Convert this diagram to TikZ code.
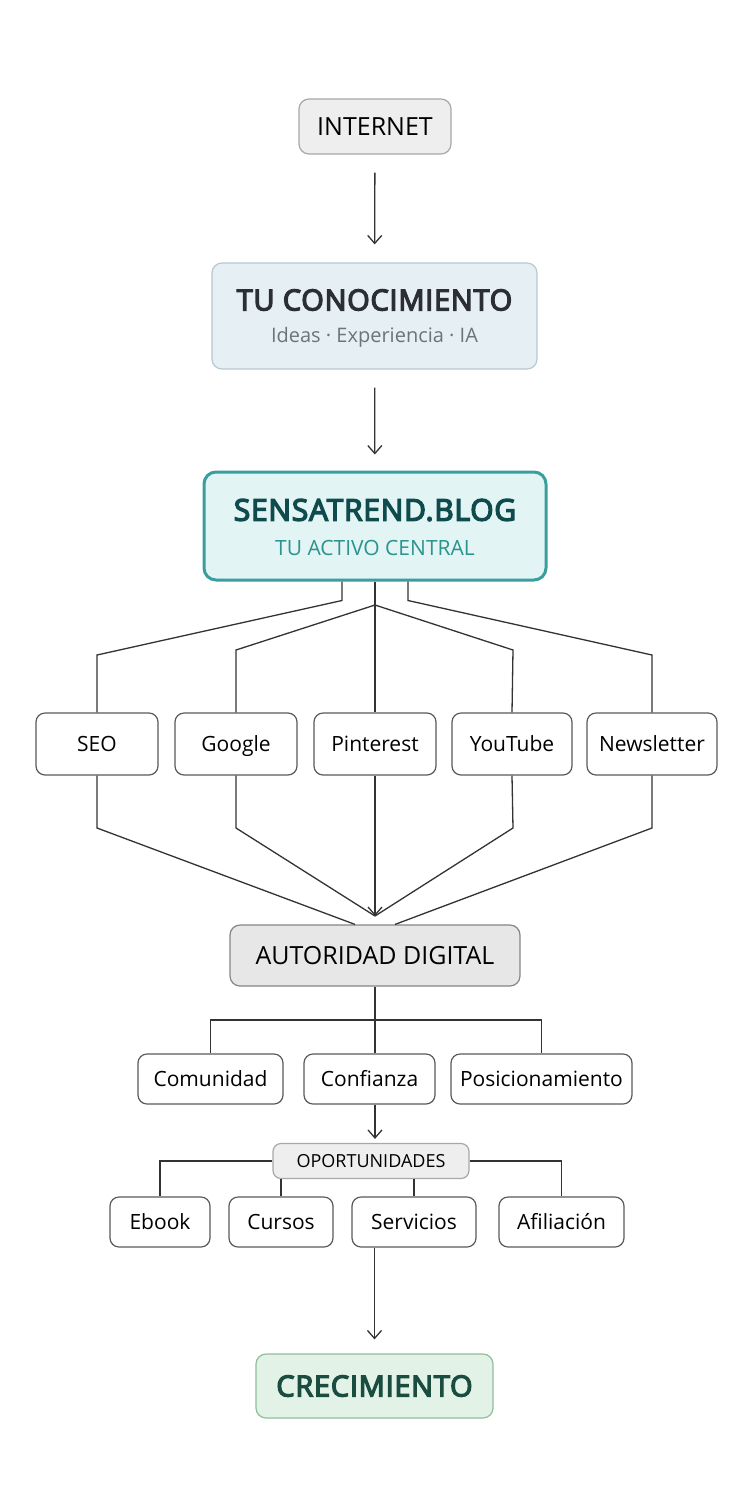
\documentclass[tikz,border=0pt]{standalone}
\usepackage{fontspec}
\setmainfont{Open Sans}
\newfontfamily\mediumfont[FakeBold=4.5, LetterSpace=2.5]{Open Sans}
\usepackage{xcolor}
\usetikzlibrary{arrows.meta}
\definecolor{linegray}{HTML}{333333}
\definecolor{boxborder}{HTML}{5A5A5A}
\definecolor{greyfill}{HTML}{EEEEEE}
\definecolor{greyborder}{HTML}{A8A8A8}
\definecolor{authfill}{HTML}{E7E7E7}
\definecolor{knowfill}{HTML}{E6F0F4}
\definecolor{knowborder}{HTML}{B8C8D0}
\definecolor{knowtext}{HTML}{2B2F33}
\definecolor{knowsub}{HTML}{6B7478}
\definecolor{blogfill}{HTML}{E2F4F4}
\definecolor{blogborder}{HTML}{3A9E9E}
\definecolor{blogtext}{HTML}{0F4A4D}
\definecolor{blogsub}{HTML}{2A948F}
\definecolor{crecfill}{HTML}{E2F2E6}
\definecolor{crecborder}{HTML}{8EBF9A}
\definecolor{crectext}{HTML}{1A4D40}

\tikzset{
  box/.style={draw=boxborder, fill=white, line width=0.6pt, rounded corners=4.5pt, inner sep=0pt, text height=7.6pt, text depth=0pt, font=\fontsize{10.5}{12}\selectfont},
  greybox/.style={draw=greyborder, fill=greyfill, line width=0.6pt, rounded corners=5pt, inner sep=0pt},
  link/.style={draw=linegray, line width=0.65pt},
  arrow/.style={link, -{Straight Barb[length=4pt, width=7pt, line width=0.65pt]}}
}

\begin{document}
\begin{tikzpicture}[x=0.5pt,y=-0.5pt]
\useasboundingbox[fill=white] (0,0) rectangle (750,1500);

\draw node(internet)[greybox, minimum width=76pt, minimum height=27.5pt, font=\fontsize{12.5}{14}\selectfont] at (375,126.5) {INTERNET};

\draw node(know)[draw=knowborder, fill=knowfill, line width=0.6pt, rounded corners=5pt, minimum width=162.5pt, minimum height=53pt] at (374.5,316) {};
\draw node(knowtitle)[text=knowtext, font=\mediumfont\fontsize{14.5}{17}\selectfont] at (374.5,300) {TU CONOCIMIENTO};
\draw node(knowsub)[text=knowsub, font=\fontsize{10}{12}\selectfont] at (374.5,337) {Ideas · Experiencia · IA};

\draw node(blog)[draw=blogborder, fill=blogfill, line width=1.5pt, rounded corners=6pt, minimum width=171pt, minimum height=54pt] at (375,526) {};
\draw node(blogtitle)[text=blogtext, font=\mediumfont\fontsize{15}{18}\selectfont] at (375,510) {SENSATREND.BLOG};
\draw node(blogsub)[text=blogsub, font=\fontsize{10.5}{12}\selectfont] at (375,548) {TU ACTIVO CENTRAL};

\draw node(seo)[box, minimum width=61pt, minimum height=31pt] at (97,744) {SEO};
\draw node(google)[box, minimum width=61pt, minimum height=31pt] at (236,744) {Google};
\draw node(pinterest)[box, minimum width=61pt, minimum height=31pt] at (375,744) {Pinterest};
\draw node(youtube)[box, minimum width=60pt, minimum height=31pt] at (512,744) {YouTube};
\draw node(newsletter)[box, minimum width=65pt, minimum height=31pt] at (652,744) {Newsletter};

\draw node(autoridad)[greybox, fill=authfill, draw=greyborder!80!black, minimum width=145pt, minimum height=30.5pt, font=\fontsize{12.5}{14}\selectfont] at (375,955.5) {AUTORIDAD DIGITAL};

\draw node(comunidad)[box, minimum width=72.5pt, minimum height=25pt] at (210.5,1079) {Comunidad};
\draw node(confianza)[box, minimum width=65.5pt, minimum height=25pt] at (369.5,1079) {Confianza};
\draw node(posicion)[box, minimum width=90.5pt, minimum height=25pt] at (541.5,1079) {Posicionamiento};

\draw node(oport)[greybox, rounded corners=4pt, minimum width=98pt, minimum height=17.5pt, font=\fontsize{9}{10}\selectfont] at (371,1161) {OPORTUNIDADES};

\draw node(ebook)[box, minimum width=50pt, minimum height=25pt] at (160,1222) {Ebook};
\draw node(cursos)[box, minimum width=52pt, minimum height=25pt] at (281,1222) {Cursos};
\draw node(servicios)[box, minimum width=62pt, minimum height=25pt] at (414,1222) {Servicios};
\draw node(afiliacion)[box, minimum width=62.5pt, minimum height=25pt] at (561.5,1222) {Afiliación};

\draw node(crec)[draw=crecborder, fill=crecfill, line width=0.6pt, rounded corners=5pt, minimum width=118.5pt, minimum height=32pt, text=crectext, font=\mediumfont\fontsize{14.5}{17}\selectfont] at (374.5,1386) {CRECIMIENTO};

% top arrows
\draw[arrow, shorten <=9pt, shorten >=9pt] (internet) -- (know);
\draw[arrow, shorten <=9pt, shorten >=8pt] (know) -- (blog);

% blog to channels
\coordinate (fork) at (375,605);
\draw[link] ([xshift=-16.5pt]blog.south) -- ++(0,19) -- (97,655) -- (seo.north);
\draw[link] (fork) -- (236,650) -- (google.north);
\draw[link] (blog.south) -- (pinterest.north);
\draw[link] (fork) -- (513,650) -- (youtube.north);
\draw[link] ([xshift=16.5pt]blog.south) -- ++(0,19) -- (652,655) -- (newsletter.north);

% channels to autoridad
\coordinate (meet) at (375,916);
\draw[link] (seo.south) -- (97,828) -- ([xshift=-10pt]autoridad.north);
\draw[link] (google.south) -- (236,828) -- (meet);
\draw[arrow] (pinterest.south) -- (meet);
\draw[link] (youtube.south) -- (513,828) -- (meet);
\draw[link] (newsletter.south) -- (652,828) -- ([xshift=10pt]autoridad.north);

% autoridad to pillars
\coordinate (bar) at (375,1020);
\draw[link] (autoridad.south) -- (autoridad.south |- confianza.north);
\draw[link] (comunidad.north) |- (bar) -| (posicion.north);

\draw[arrow, shorten >=2pt] (confianza.south -| autoridad.south) -- (oport.north -| autoridad.south);

% oportunidades
\draw[link] (oport.west) -| (ebook.north);
\draw[link] (oport.east) -| (afiliacion.north);
\draw[link] (oport.south -| cursos.north) -- (cursos.north);
\draw[link] (oport.south -| servicios.north) -- (servicios.north);

\draw[arrow, shorten >=7pt] (servicios.south -| crec.north) -- (crec.north);
\end{tikzpicture}
\end{document}
